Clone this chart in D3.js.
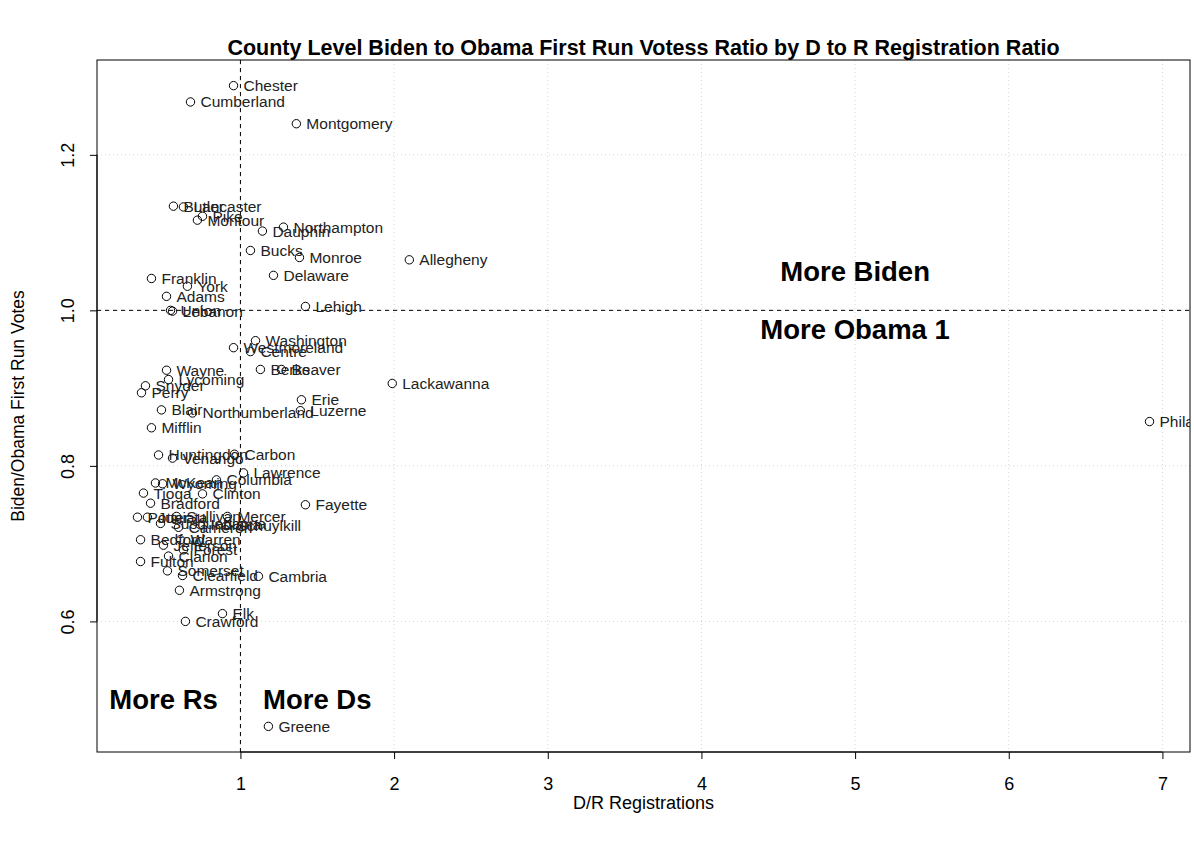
<!DOCTYPE html>
<html>
<head>
<meta charset="utf-8">
<script src="https://cdn.jsdelivr.net/npm/d3@7"></script>
<style>
  html, body { margin: 0; padding: 0; background: #fff; }
  svg { display: block; font-family: "Liberation Sans", Arial, Helvetica, sans-serif; }
</style>
</head>
<body>
<svg id="chart" width="1194" height="844"></svg>
<script>
const counties = ["Adams","Allegheny","Armstrong","Beaver","Bedford","Berks","Blair","Bradford","Bucks","Butler",
  "Cambria","Cameron","Carbon","Centre","Chester","Clarion","Clearfield","Clinton","Columbia","Crawford",
  "Cumberland","Dauphin","Delaware","Elk","Erie","Fayette","Forest","Franklin","Fulton","Greene",
  "Huntingdon","Indiana","Jefferson","Juniata","Lackawanna","Lancaster","Lawrence","Lebanon","Lehigh","Luzerne",
  "Lycoming","McKean","Mercer","Mifflin","Monroe","Montgomery","Montour","Northampton","Northumberland","Perry",
  "Philadelphia","Pike","Potter","Schuylkill","Snyder","Somerset","Sullivan","Susquehanna","Tioga","Union",
  "Venango","Warren","Washington","Wayne","Westmoreland","Wyoming","York"];

const drRatio = [0.519,2.099,0.603,1.267,0.350,1.130,0.486,0.415,1.065,0.564,
  1.117,0.597,0.961,1.065,0.955,0.532,0.623,0.753,0.844,0.642,
  0.675,1.143,1.215,0.883,1.397,1.423,0.629,0.421,0.350,1.182,
  0.467,0.740,0.499,0.395,1.988,0.629,1.020,0.558,1.423,1.390,
  0.532,0.447,0.915,0.421,1.384,1.364,0.720,1.280,0.688,0.356,
  6.916,0.753,0.330,0.909,0.382,0.525,0.584,0.480,0.369,0.545,
  0.558,0.610,1.098,0.519,0.955,0.493,0.655];

const voteRatio = [1.018,1.065,0.640,0.924,0.705,0.924,0.872,0.752,1.077,1.134,
  0.658,0.721,0.815,0.947,1.289,0.684,0.659,0.764,0.782,0.600,
  1.268,1.102,1.045,0.610,0.885,0.750,0.692,1.041,0.677,0.465,
  0.814,0.724,0.698,0.734,0.906,1.133,0.791,0.999,1.005,0.871,
  0.911,0.778,0.735,0.849,1.068,1.240,1.116,1.107,0.868,0.894,
  0.857,1.121,0.734,0.723,0.903,0.665,0.735,0.726,0.765,1.000,
  0.810,0.705,0.961,0.923,0.952,0.777,1.031];

const xTicks = [1,2,3,4,5,6,7];
const yTicks = [0.6,0.8,1.0,1.2];
const yTickLabels = ["0.6","0.8","1.0","1.2"];

const annotText = ["More Biden","More Obama 1","More Rs","More Ds"];
const annotX = [5, 5, 0.5, 1.5];
const annotY = [1.05, 0.975, 0.5, 0.5];

const titleText = "County Level Biden to Obama First Run Votess Ratio by D to R Registration Ratio";
const xLabel = "D/R Registrations";
const yLabel = "Biden/Obama First Run Votes";

const svg = d3.select("#chart");
const L = 97, R = 1190, T = 60, B = 752;

function ext(arr){ const mn = d3.min(arr), mx = d3.max(arr), p = (mx-mn)*0.04; return [mn-p, mx+p]; }
const x = d3.scaleLinear().domain(ext(drRatio)).range([L, R]);
const y = d3.scaleLinear().domain(ext(voteRatio)).range([B, T]);

svg.append("defs").append("clipPath").attr("id","plotclip")
  .append("rect").attr("x",L).attr("y",T).attr("width",R-L).attr("height",B-T);

// grid
const grid = svg.append("g");
grid.selectAll(".gx").data(xTicks).join("line")
  .attr("x1",d=>x(d)).attr("x2",d=>x(d)).attr("y1",T).attr("y2",B)
  .attr("stroke","#d3d3d3").attr("stroke-dasharray","1,3");
grid.selectAll(".gy").data(yTicks).join("line")
  .attr("y1",d=>y(d)).attr("y2",d=>y(d)).attr("x1",L).attr("x2",R)
  .attr("stroke","#d3d3d3").attr("stroke-dasharray","1,3");

// reference lines
svg.append("line").attr("x1",x(1)).attr("x2",x(1)).attr("y1",T).attr("y2",B)
  .attr("stroke","#000").attr("stroke-dasharray","4,4");
svg.append("line").attr("x1",L).attr("x2",R).attr("y1",y(1)).attr("y2",y(1))
  .attr("stroke","#000").attr("stroke-dasharray","4,4");

// axes
const xAxis = d3.axisBottom(x).tickValues(xTicks).tickSize(7).tickPadding(18).tickFormat(d3.format("d"));
const gx = svg.append("g").attr("transform",`translate(0,${B})`).call(xAxis);
gx.select(".domain").remove();
gx.selectAll("text").attr("font-size",18).attr("fill","#000").attr("font-family","Liberation Sans, Arial, sans-serif");
gx.selectAll("line").attr("stroke","#000");
gx.append("line").attr("x1",x(1)).attr("x2",x(7)).attr("stroke","#000");

const yAxis = d3.axisLeft(y).tickValues(yTicks).tickSize(7).tickFormat((d,i)=>yTickLabels[i]);
const gy = svg.append("g").attr("transform",`translate(${L},0)`).call(yAxis);
gy.select(".domain").remove();
gy.selectAll("line").attr("stroke","#000");
gy.selectAll("text").attr("font-size",18).attr("fill","#000").attr("font-family","Liberation Sans, Arial, sans-serif")
  .attr("text-anchor","middle").attr("x",0).attr("dy",0)
  .attr("dominant-baseline","central")
  .attr("transform","translate(-29,0) rotate(-90)");
gy.append("line").attr("y1",y(0.6)).attr("y2",y(1.2)).attr("stroke","#000");

// box
svg.append("rect").attr("x",L).attr("y",T).attr("width",R-L).attr("height",B-T)
  .attr("fill","none").attr("stroke","#000").attr("stroke-width",1);

// points
const pts = counties.map((c,i)=>({name:c, x:drRatio[i], y:voteRatio[i]}));
svg.append("g").selectAll("circle").data(pts).join("circle")
  .attr("cx",d=>x(d.x)).attr("cy",d=>y(d.y)).attr("r",4.2)
  .attr("fill","none").attr("stroke","#000").attr("stroke-width",1);

svg.append("g").attr("clip-path","url(#plotclip)").selectAll("text").data(pts).join("text")
  .attr("x",d=>x(d.x)+10).attr("y",d=>y(d.y))
  .attr("dominant-baseline","central")
  .attr("font-size",15.5).attr("fill","#222")
  .text(d=>d.name);

// annotations
svg.append("g").selectAll("text").data(annotText).join("text")
  .attr("x",(d,i)=>x(annotX[i])).attr("y",(d,i)=>y(annotY[i]))
  .attr("text-anchor","middle").attr("dominant-baseline","central")
  .attr("font-size",27.5).attr("font-weight","bold").attr("fill","#000")
  .text(d=>d);

// title & labels
svg.append("text").attr("x",(L+R)/2).attr("y",55).attr("text-anchor","middle")
  .attr("font-size",21.5).attr("font-weight","bold").text(titleText);
svg.append("text").attr("x",(L+R)/2).attr("y",809).attr("text-anchor","middle")
  .attr("font-size",18).text(xLabel);
svg.append("text").attr("transform",`translate(24,${(T+B)/2}) rotate(-90)`).attr("text-anchor","middle")
  .attr("font-size",17.5).text(yLabel);
</script>
</body>
</html>
